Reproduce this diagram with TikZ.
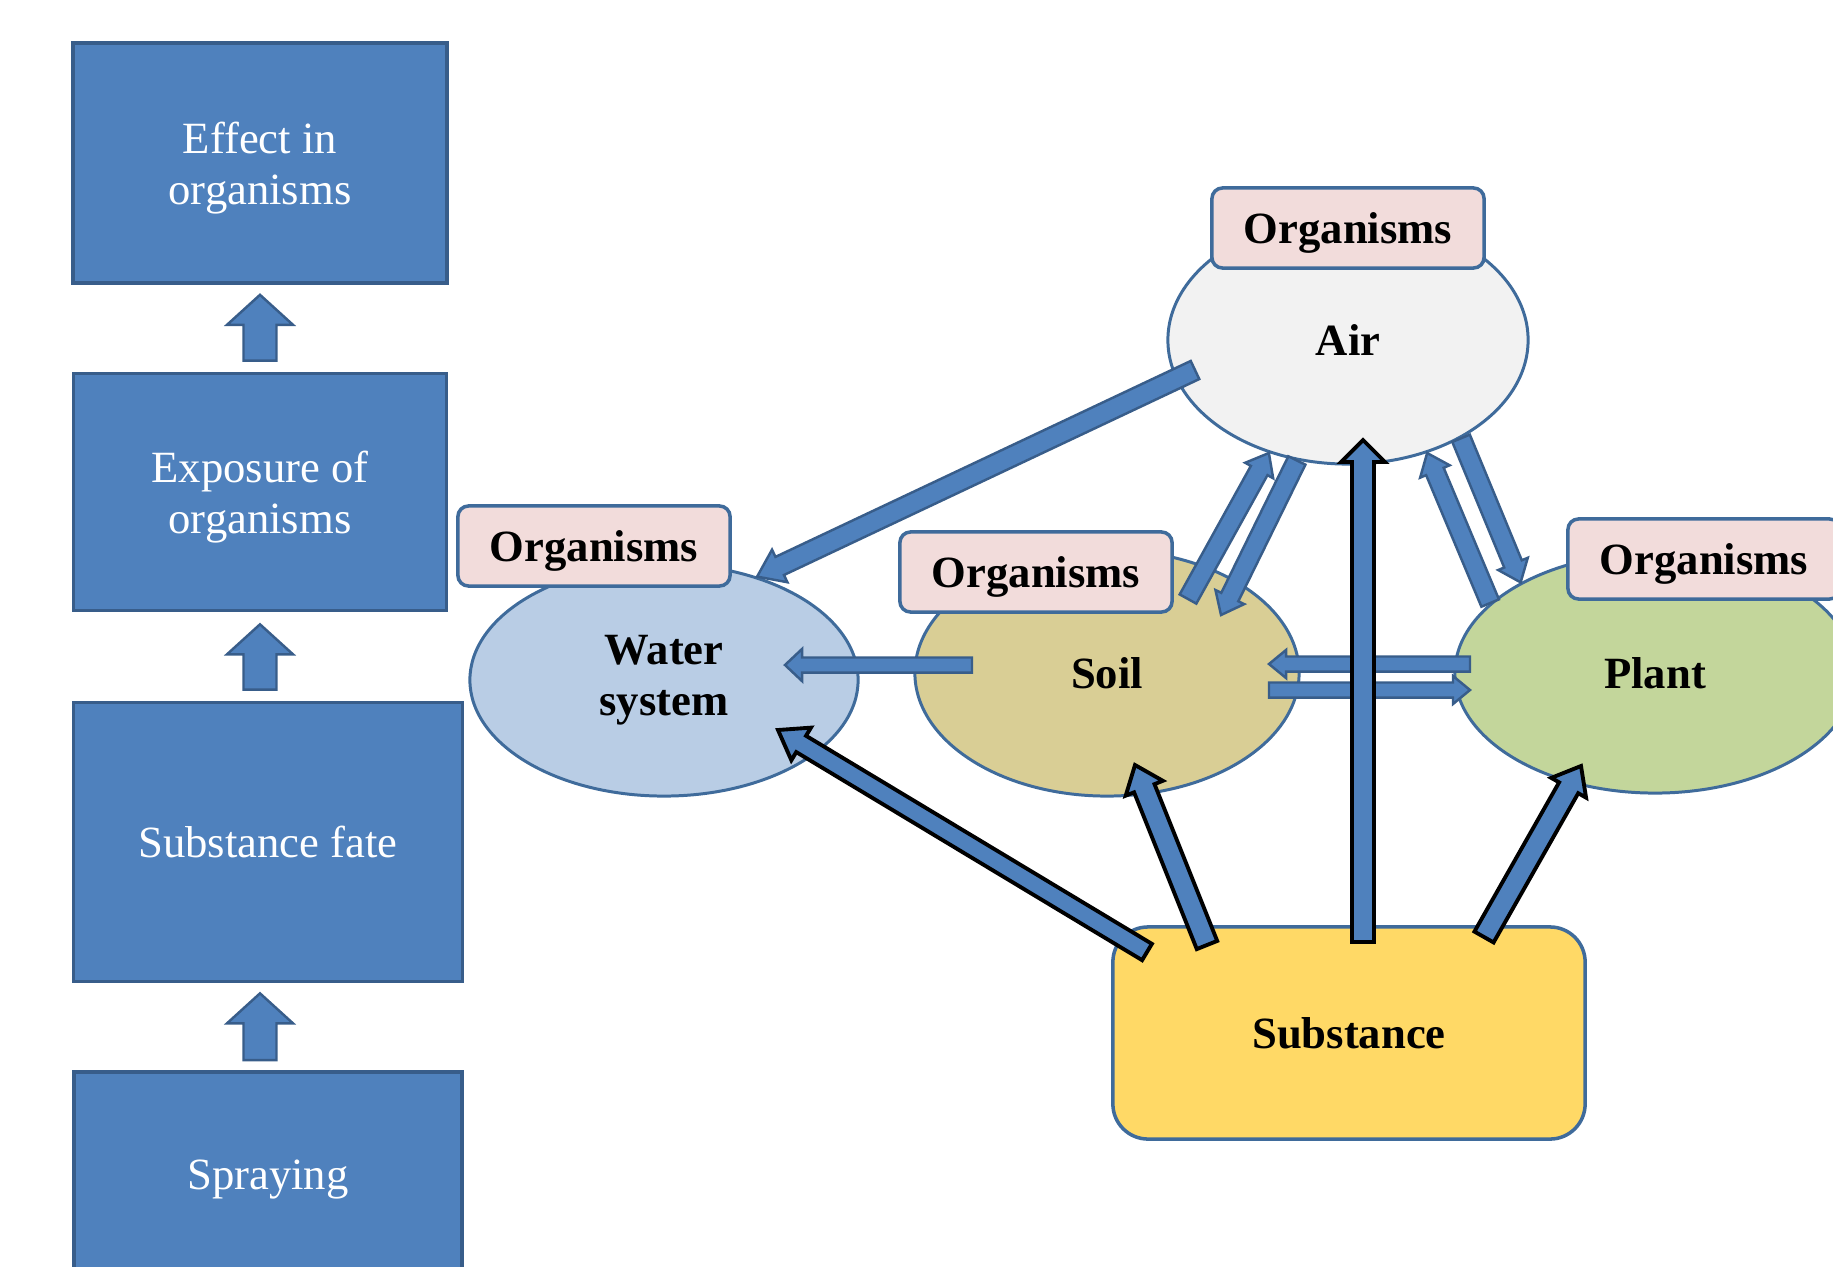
\documentclass[tikz,border=0pt]{standalone}
\usepackage{fontspec}
\setmainfont{Liberation Serif}
\usetikzlibrary{shapes.geometric,calc}

\definecolor{boxblue}{HTML}{4F81BD}
\definecolor{boxedge}{HTML}{385D8A}
\definecolor{lineblue}{HTML}{3F6B9B}
\definecolor{orgpink}{HTML}{F2DCDB}
\definecolor{airgrey}{HTML}{F2F2F2}
\definecolor{waterblue}{HTML}{B9CDE5}
\definecolor{soilolive}{HTML}{D9CE95}
\definecolor{plantgreen}{HTML}{C3D69B}
\definecolor{subgold}{HTML}{FFD966}

% block arrow: style, half shaft, half head, head length, from, to
\newcommand{\fatarrow}[6]{%
  \coordinate (fa-a) at (#5);
  \coordinate (fa-b) at (#6);
  \coordinate (fa-h) at ($(fa-b)!#4!(fa-a)$);
  \draw[#1] ($(fa-a)!#2!90:(fa-b)$) -- ($(fa-h)!#2!90:(fa-b)$)
    -- ($(fa-h)!#3!90:(fa-b)$) -- (fa-b) -- ($(fa-h)!#3!-90:(fa-b)$)
    -- ($(fa-h)!#2!-90:(fa-b)$) -- ($(fa-a)!#2!-90:(fa-b)$) -- cycle;}

\tikzset{
  stage/.style={rectangle, draw=boxedge, line width=1pt, fill=boxblue, text=white,
    align=center, inner sep=0pt, font=\fontsize{12.7}{14.5}\selectfont},
  medium/.style={ellipse, draw=lineblue, line width=0.85pt, inner sep=0pt,
    align=center, font=\bfseries\fontsize{12.7}{14.5}\selectfont},
  orgbox/.style={rectangle, rounded corners=3pt, draw=lineblue, line width=1pt,
    fill=orgpink, minimum width=2.72cm, minimum height=0.8cm, inner sep=0pt,
    text depth=0pt, font=\bfseries\fontsize{12.7}{14.5}\selectfont},
  source/.style={rectangle, rounded corners=10pt, draw=lineblue, line width=1pt,
    fill=subgold, inner sep=0pt, font=\bfseries\fontsize{12.7}{14.5}\selectfont},
  flow/.style={draw=boxedge, line width=0.7pt, fill=boxblue},
  feed/.style={draw=black, line width=1.1pt, fill=boxblue}
}

\begin{document}
\begin{tikzpicture}[x=0.01cm, y=-0.01cm]
\useasboundingbox (0,0) rectangle (1833,1266);
\clip (0,0) rectangle (1833,1266);
% chain on the left
\node[stage, text depth=0pt, minimum width=3.74cm, minimum height=2.4cm] (effect) at (260,163) {Effect in\\organisms};
\node[stage, text depth=0pt, minimum width=3.73cm, minimum height=2.37cm] (exposure) at (260,492) {Exposure of\\organisms};
\node[stage, minimum width=3.89cm, minimum height=2.79cm] (fate) at (268,842) {Substance fate};
\node[stage, minimum width=3.88cm, minimum height=2.16cm] (spray) at (268,1180) {Spraying};
\fatarrow{flow}{0.165cm}{0.33cm}{0.3cm}{$(spray.north -| effect)+(0,-10)$}{$(fate.south -| effect)+(0,10)$}
\fatarrow{flow}{0.165cm}{0.33cm}{0.3cm}{$(fate.north -| effect)+(0,-11)$}{$(exposure.south)+(0,12)$}
\fatarrow{flow}{0.165cm}{0.33cm}{0.3cm}{$(exposure.north)+(0,-11)$}{$(effect.south)+(0,10)$}
% compartments
\node[medium, fill=airgrey, minimum width=3.6cm, minimum height=2.48cm] (air) at (1348,340) {Air};
\node[medium, fill=waterblue, minimum width=3.88cm, minimum height=2.32cm] (water) at (664,680) {Water\\system};
\node[medium, fill=soilolive, minimum width=3.84cm, minimum height=2.46cm] (soil) at (1107,673) {Soil};
\node[medium, fill=plantgreen, minimum width=4cm, minimum height=2.4cm] (plant) at (1655,673) {Plant};
\node[orgbox] (airorg) at (1348,228) {Organisms};
\node[orgbox] (waterorg) at (594,546) {Organisms};
\node[orgbox] (soilorg) at (1036,572) {Organisms};
\node[orgbox] (plantorg) at (1704,559) {Organisms};
\node[source, minimum width=4.72cm, minimum height=2.12cm] (sub) at (1349,1033) {Substance};
% exchange between compartments
\fatarrow{flow}{0.1cm}{0.18cm}{0.25cm}{$(air)+(-153,30)$}{water.48}
\fatarrow{flow}{0.095cm}{0.16cm}{0.2cm}{$(soil)+(81,-74)$}{air.235}
\fatarrow{flow}{0.095cm}{0.16cm}{0.2cm}{air.247}{$(soil)+(114,-58)$}
\fatarrow{flow}{0.095cm}{0.16cm}{0.2cm}{plant.157}{air.305}
\fatarrow{flow}{0.095cm}{0.16cm}{0.2cm}{air.319}{plant.146}
\fatarrow{flow}{0.075cm}{0.14cm}{0.17cm}{$(plant)+(-185,-9)$}{$(soil)+(162,-9)$}
\fatarrow{flow}{0.075cm}{0.14cm}{0.17cm}{$(soil)+(162,17)$}{$(plant)+(-185,17)$}
\fatarrow{flow}{0.075cm}{0.16cm}{0.17cm}{$(soil)+(-135,-8)$}{$(water)+(121,-15)$}
% input from the substance
\fatarrow{feed}{0.095cm}{0.19cm}{0.27cm}{$(sub)+(-202,-81)$}{$(water)+(114,50)$}
\fatarrow{feed}{0.11cm}{0.2cm}{0.25cm}{$(sub)+(-142,-88)$}{$(soil)+(28,92)$}
\fatarrow{feed}{0.11cm}{0.2cm}{0.25cm}{$(sub)+(135,-96)$}{$(plant)+(-74,93)$}
\fatarrow{feed}{0.11cm}{0.22cm}{0.22cm}{$(sub)+(14,-91)$}{$(air)+(15,100)$}
\end{tikzpicture}
\end{document}
